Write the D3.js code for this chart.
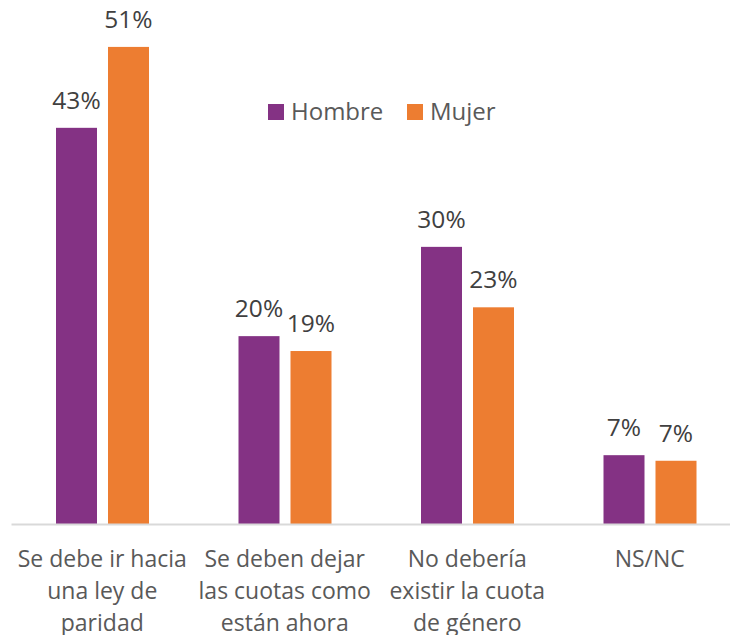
<!DOCTYPE html>
<html>
<head>
<meta charset="utf-8">
<script src="https://cdn.jsdelivr.net/npm/d3@7"></script>
<style>
  body { margin: 0; background: #fff; }
  text { font-family: "Open Sans", sans-serif; }
</style>
</head>
<body>
<div id="vis"></div>
<script>
// data
let categories = ['Se debe ir hacia una ley de paridad', 'Se deben dejar las cuotas como están ahora', 'No debería existir la cuota de género', 'NS/NC']
let categoryLines = [
  ['Se debe ir hacia', 'una ley de', 'paridad'],
  ['Se deben dejar', 'las cuotas como', 'están ahora'],
  ['No debería', 'existir la cuota', 'de género'],
  ['NS/NC']
]
let series = ['Hombre', 'Mujer']
let hombre = [42.6, 20.2, 29.8, 7.4]
let mujer = [51.3, 18.6, 23.3, 6.8]
let colors = ['#843284', '#ED7D31']

let width = 730,
  height = 635

let svg = d3.select('#vis')
  .append('svg')
  .attr('width', width)
  .attr('height', height)

// scales
let x0 = d3.scaleBand()
  .domain(categories)
  .range([11, 741])

let x1 = d3.scaleBand()
  .domain(series)
  .range([45, 138])
  .paddingInner(0.2115)

let y = d3.scaleLinear()
  .domain([0, 55])
  .range([524, 12.5])

let rows = categories.map((c, i) => ({ cat: c, values: [hombre[i], mujer[i]] }))

// bars
let groups = svg.selectAll('.group')
  .data(rows)
  .enter()
  .append('g')
  .attr('transform', d => `translate(${x0(d.cat)},0)`)

groups.selectAll('rect')
  .data(d => d.values.map((v, j) => ({ key: series[j], v: v, color: colors[j] })))
  .enter()
  .append('rect')
  .attr('x', d => x1(d.key))
  .attr('y', d => y(d.v))
  .attr('width', x1.bandwidth())
  .attr('height', d => y(0) - y(d.v))
  .attr('fill', d => d.color)

// value labels
groups.selectAll('.val')
  .data(d => d.values.map((v, j) => ({ key: series[j], v: v })))
  .enter()
  .append('text')
  .attr('x', d => x1(d.key) + x1.bandwidth() / 2)
  .attr('y', d => y(d.v) - 19)
  .attr('text-anchor', 'middle')
  .attr('font-size', 24.5)
  .attr('fill', '#404040')
  .text(d => Math.round(d.v) + '%')

// x axis
let xAxis = svg.append('g')
  .attr('transform', `translate(0,${y(0)})`)
  .call(d3.axisBottom(x0).tickSize(0).tickSizeOuter(0).tickFormat(''))

xAxis.select('.domain')
  .attr('stroke', '#D9D9D9')
  .attr('stroke-width', 2)

xAxis.selectAll('.tick text').remove()

xAxis.selectAll('.tick')
  .append('text')
  .attr('text-anchor', 'middle')
  .attr('font-size', 23)
  .attr('fill', '#595959')
  .each(function (d, i) {
    let t = d3.select(this)
    categoryLines[i].forEach((line, k) => {
      t.append('tspan')
        .attr('x', 0)
        .attr('y', 43 + k * 32)
        .text(line)
    })
  })

// legend
let legendX = [268, 407]
let legend = svg.selectAll('.legend')
  .data(series)
  .enter()
  .append('g')
  .attr('transform', (d, i) => `translate(${legendX[i]},104)`)

legend.append('rect')
  .attr('width', 16)
  .attr('height', 16)
  .attr('fill', (d, i) => colors[i])

legend.append('text')
  .attr('x', 23)
  .attr('y', 16)
  .attr('font-size', 24)
  .attr('fill', '#595959')
  .text(d => d)
</script>
</body>
</html>
